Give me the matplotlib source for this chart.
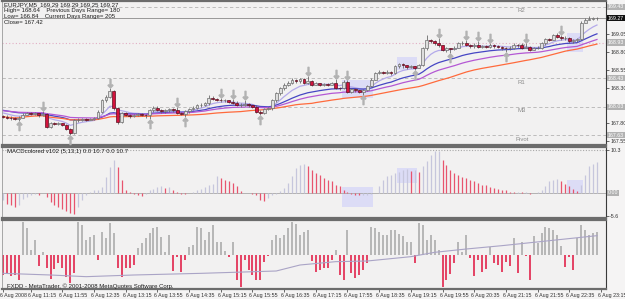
import numpy as np
import pandas as pd
import matplotlib.pyplot as plt
from matplotlib.patches import Rectangle
from matplotlib.transforms import ScaledTranslation

# EURJPY M5, 6 Aug 2008
first_open = 167.90
closes = [167.89, 167.88, 167.87, 167.86, 167.88, 167.92, 167.94, 167.93, 167.94, 167.91,
          167.93, 167.75, 167.80, 167.79, 167.80, 167.78, 167.72, 167.66, 167.84, 167.85,
          167.86, 167.85, 167.86, 167.87, 167.96, 168.12, 168.17, 168.25, 168.01, 167.82,
          167.94, 167.92, 167.90, 167.91, 167.93, 167.92, 167.91, 167.98, 168.02, 167.99,
          167.97, 167.98, 168.00, 167.98, 167.95, 167.93, 167.97, 168.00, 168.02, 168.05,
          168.06, 168.08, 168.16, 168.14, 168.13, 168.12, 168.12, 168.10, 168.09, 168.05,
          168.06, 168.07, 168.05, 168.03, 167.96, 167.95, 168.00, 168.01, 168.12, 168.22,
          168.29, 168.34, 168.37, 168.41, 168.39, 168.42, 168.37, 168.39, 168.34, 168.36,
          168.34, 168.35, 168.34, 168.36, 168.30, 168.29, 168.38, 168.24, 168.28, 168.26,
          168.24, 168.26, 168.32, 168.41, 168.50, 168.52, 168.51, 168.52, 168.50, 168.60,
          168.63, 168.61, 168.59, 168.60, 168.58, 168.61, 168.85, 168.97, 168.95, 168.92,
          168.89, 168.83, 168.85, 168.84, 168.86, 168.92, 168.93, 168.90, 168.88, 168.90,
          168.87, 168.88, 168.87, 168.90, 168.88, 168.87, 168.86, 168.85, 168.86, 168.90,
          168.89, 168.86, 168.87, 168.83, 168.85, 168.86, 168.92, 168.98, 168.97, 169.03,
          169.01, 168.99, 169.00, 168.95, 168.96, 168.98, 169.21, 169.25, 169.26, 169.27,
          169.27]
highs = [167.92, 167.91, 167.90, 167.89, 167.90, 167.94, 167.96, 167.96, 167.96, 167.95,
         167.97, 167.94, 167.82, 167.82, 167.82, 167.81, 167.79, 167.73, 167.86, 167.87,
         167.88, 167.87, 167.88, 167.89, 167.98, 168.14, 168.20, 168.29, 168.27, 168.03,
         167.96, 167.96, 167.93, 167.93, 167.95, 167.95, 167.93, 168.00, 168.04, 168.04,
         168.00, 168.00, 168.02, 168.02, 168.03, 167.96, 167.99, 168.02, 168.04, 168.07,
         168.08, 168.10, 168.19, 168.18, 168.15, 168.16, 168.14, 168.13, 168.14, 168.11,
         168.08, 168.12, 168.08, 168.06, 168.05, 167.98, 168.02, 168.03, 168.14, 168.24,
         168.31, 168.36, 168.39, 168.43, 168.42, 168.44, 168.44, 168.46, 168.40, 168.38,
         168.37, 168.37, 168.36, 168.38, 168.42, 168.31, 168.40, 168.41, 168.30, 168.29,
         168.27, 168.28, 168.34, 168.43, 168.52, 168.54, 168.53, 168.54, 168.53, 168.62,
         168.65, 168.64, 168.62, 168.62, 168.60, 168.63, 168.87, 169.04, 168.98, 168.96,
         169.00, 168.90, 168.87, 168.86, 168.88, 168.94, 168.95, 168.97, 168.91, 168.92,
         168.95, 168.90, 168.89, 168.93, 168.91, 168.89, 168.88, 168.87, 168.88, 168.92,
         168.91, 168.92, 168.93, 168.88, 168.87, 168.88, 168.94, 169.00, 169.00, 169.05,
         169.06, 169.04, 169.02, 169.01, 168.98, 169.00, 169.23, 169.28, 169.30, 169.29,
         169.29]
lows = [167.87, 167.86, 167.85, 167.84, 167.83, 167.87, 167.91, 167.91, 167.92, 167.89,
        167.90, 167.73, 167.74, 167.77, 167.77, 167.76, 167.70, 167.63, 167.65, 167.82,
        167.83, 167.83, 167.84, 167.85, 167.86, 167.95, 168.10, 168.15, 167.99, 167.79,
        167.80, 167.90, 167.88, 167.89, 167.90, 167.90, 167.88, 167.86, 167.96, 167.97,
        167.95, 167.95, 167.96, 167.96, 167.93, 167.91, 167.89, 167.95, 167.98, 168.00,
        168.03, 168.04, 168.06, 168.12, 168.11, 168.10, 168.10, 168.08, 168.07, 168.04,
        168.03, 168.04, 168.03, 168.01, 167.94, 167.91, 167.93, 167.98, 167.99, 168.10,
        168.20, 168.27, 168.32, 168.35, 168.37, 168.37, 168.35, 168.35, 168.32, 168.33,
        168.32, 168.32, 168.32, 168.33, 168.28, 168.27, 168.28, 168.22, 168.23, 168.24,
        168.22, 168.20, 168.25, 168.31, 168.40, 168.49, 168.49, 168.49, 168.48, 168.49,
        168.58, 168.58, 168.56, 168.57, 168.54, 168.57, 168.60, 168.83, 168.92, 168.90,
        168.87, 168.81, 168.80, 168.78, 168.82, 168.85, 168.90, 168.88, 168.86, 168.86,
        168.85, 168.85, 168.85, 168.86, 168.86, 168.85, 168.83, 168.80, 168.83, 168.84,
        168.87, 168.84, 168.85, 168.81, 168.82, 168.84, 168.84, 168.90, 168.95, 168.96,
        168.99, 168.97, 168.97, 168.93, 168.93, 168.94, 168.96, 169.20, 169.24, 169.25,
        169.25]

# EMA values carried in from before the first visible bar
ema8_prev, ema21_prev, ema34_prev = 167.96, 167.99, 167.98

macd_hist = [-1.8, -2.6, -3.0, -3.4, -3.0, -1.4, -1.0, -0.6, -0.3, -0.6,
             -0.1, -1.0, -2.2, -3.0, -3.4, -3.8, -4.3, -4.8, -5.1, -3.4,
             -1.8, -0.6, 0.2, 0.6, 0.8, 1.4, 3.8, 6.2, 8.0, 6.2,
             3.0, 0.8, 0.2, -0.3, -0.6, -0.8, -0.2, 0.6, 1.0, 1.4,
             1.6, 1.3, 1.4, 0.6, 0.2, -0.2, -0.3, 0.0, 0.2, 0.6,
             1.0, 1.4, 1.8, 2.2, 4.0, 3.6, 3.2, 2.8, 2.4, 1.6,
             0.4, 0.1, 0.0, -0.2, -0.6, -1.6, -2.0, -1.2, -0.6, -0.2,
             0.4, 1.2, 2.4, 4.0, 6.0, 6.8, 6.9, 6.4, 5.6, 4.8,
             4.4, 3.6, 3.2, 2.8, 2.0, 1.6, 0.8, 0.2, -0.2, -0.4,
             -0.6, -0.6, -0.4, -0.2, 0.1, 1.6, 3.2, 4.0, 4.4, 4.8,
             5.0, 5.4, 5.8, 5.2, 5.6, 5.0, 6.4, 7.6, 9.2, 10.0,
             10.0, 8.0, 6.8, 5.6, 4.8, 4.2, 3.8, 3.6, 3.2, 2.8,
             2.4, 2.0, 1.8, 1.4, 1.2, 1.0, 0.8, 0.6, 0.3, 0.2,
             0.3, 0.2, 0.2, -0.2, 0.0, 0.2, 0.8, 1.6, 2.8, 3.2,
             3.3, 2.8, 2.2, 1.6, 1.0, 0.4, 2.0, 4.4, 6.4, 7.0,
             7.4]

flow = [-60, -58, -62, -60, -75, 98, 80, 15, 45, -32,
        8, -40, -72, -42, -25, -40, -65, -85, -55, 98,
        90, 45, 55, 60, -15, 70, 52, 95, 65, -40,
        -65, -38, -38, -30, 20, 35, 52, 65, 80, 85,
        55, 8, 60, -48, -5, -50, -15, 25, 30, 85,
        80, 45, 68, 90, 38, 38, 12, -7, 40, -75,
        -95, -15, -45, -60, -75, -75, -20, -3, 45, 60,
        52, 60, 80, 98, 92, 60, 70, 75, -18, -50,
        -45, -40, -40, -15, 15, -60, -75, 75, -55, -70,
        -60, -45, -25, 85, 82, 70, 60, 60, 75, 75,
        62, 58, 40, 40, -25, 95, 90, 45, 60, 45,
        15, -95, -75, -58, -25, 40, 8, 60, -8, -62,
        -15, -50, -42, 25, -25, -30, -50, -22, -32, 52,
        -55, 38, -2, -75, 58, 35, 65, 85, 82, 75,
        60, 28, -35, -5, -45, 52, 90, 75, 60, 65,
        68]
flow_avg_bars = [0, 12, 21, 33, 50, 69, 75, 84, 92, 103, 109, 117, 126, 134, 142, 150]
flow_avg = [-55, -60, -65, -60, -55, -48, -30, -20, -18, -5, 8, 18, 28, 38, 48, 58]

pivot_names = ['Pivot', 'M3', 'R1', 'M4', 'R2']
pivot_levels = [167.63, 168.03, 168.43, 168.93, 169.43]

fractal_up = [10, 27, 44, 55, 58, 61, 77, 84, 87, 110, 117, 120, 123, 132, 141]
fractal_down = [4, 17, 37, 46, 65, 91, 104, 113, 127]

zone_bars = [(86, 93), (100, 104), (143, 146)]
zone_price = [(168.15, 168.41), (168.55, 168.73), (168.80, 169.06)]
zone_macd = [(-3.4, 1.4), (2.4, 6.0), (0.0, 3.1)]

time_ticks = [0, 7, 15, 23, 31, 39, 47, 55, 63, 71, 79, 87, 95, 103, 111, 119, 127, 135, 143, 151]
time_labels = ['6 Aug 2008', '6 Aug 11:15', '6 Aug 11:55', '6 Aug 12:35', '6 Aug 13:15',
               '6 Aug 13:55', '6 Aug 14:35', '6 Aug 15:15', '6 Aug 15:55', '6 Aug 16:35',
               '6 Aug 17:15', '6 Aug 17:55', '6 Aug 18:35', '6 Aug 19:15', '6 Aug 19:55',
               '6 Aug 20:35', '6 Aug 21:15', '6 Aug 21:55', '6 Aug 22:35', '6 Aug 23:15']

header = ['EURJPY,M5  169.29 169.29 169.25 169.27',
          'High= 168.64    Previous Days Range= 180',
          'Low= 166.84    Current Days Range= 205',
          'Close= 167.42']


def ema(vals, period, prev):
    k = 2.0 / (period + 1)
    out = []
    for v in vals:
        prev = prev + k * (v - prev)
        out.append(prev)
    return np.array(out)


n = len(closes)
x = np.arange(n)
c = np.array(closes)
o = np.array([first_open] + closes[:-1])
hi, lo = np.array(highs), np.array(lows)

W, H = 625, 299
FS = 4.3     # text inside the panels
FS_AX = 3.8  # right-hand price scale and time scale
BG = '#f2f1f1'
plt.rcParams['font.family'] = ['Liberation Sans Narrow', 'Liberation Sans', 'DejaVu Sans']
fig = plt.figure(figsize=(W / 100, H / 100), dpi=100, facecolor='#f5f4f4')


def panel(top, bottom):
    ax = fig.add_axes([2 / W, 1 - bottom / H, 604 / W, (bottom - top) / H])
    ax.set_facecolor(BG)
    ax.set_xlim(-0.25, 152.28)
    for s in ['top', 'bottom']:
        ax.spines[s].set_color('#6c6c6c')
        ax.spines[s].set_linewidth(1.6)
    ax.spines['left'].set_color('#9a9a9a')
    ax.spines['left'].set_linewidth(0.6)
    ax.spines['right'].set_color('#3a3a3a')
    ax.spines['right'].set_linewidth(0.8)
    ax.yaxis.tick_right()
    ax.tick_params(axis='y', labelsize=FS_AX, length=2, pad=1.0, colors='#303030', width=0.5)
    ax.tick_params(axis='x', bottom=False, labelbottom=False)
    return ax


def value_box(ax, val, text, fc):
    ax.text(1.003, val, text, transform=ax.get_yaxis_transform(), fontsize=FS_AX,
            color='white', va='center', ha='left', clip_on=False,
            bbox=dict(boxstyle='square,pad=0.12', fc=fc, ec='none'))


ax1 = panel(1, 145)
ax2 = panel(147, 218)
ax3 = panel(220, 289)

# ---- main price panel ----
ax1.set_ylim(167.495, 169.512)
ax1.set_yticks([169.05, 168.80, 168.55, 168.30, 167.80, 167.55])
ax1.set_yticklabels(['%.2f' % v for v in [169.05, 168.80, 168.55, 168.30, 167.80, 167.55]])

for (b0, b1), (p0, p1) in zip(zone_bars, zone_price):
    ax1.add_patch(Rectangle((b0 - 0.5, p0), b1 - b0 + 1, p1 - p0, fc='#dcdcf6', ec='none', zorder=0.5))

for name, lvl in zip(pivot_names, pivot_levels):
    if name == 'M4':
        ax1.axhline(lvl, color='#e2aec4', lw=0.8, ls=(0, (1, 2)), zorder=1)
    else:
        ax1.axhline(lvl, color='#b4b4b4', lw=0.6, ls=(0, (4, 3)), zorder=1)
    ax1.text(131, lvl - 0.02, name, ha='center', va='top', fontsize=FS, color='#8c8c8c', zorder=1)
    value_box(ax1, lvl, '%.2f' % lvl, '#b2b2b2')

ax1.axhline(closes[-1], color='#8a8a8a', lw=0.6, zorder=1)
value_box(ax1, closes[-1], '%.2f' % closes[-1], '#111111')

ax1.plot(x, ema(closes, 8, ema8_prev), color='#b4aaea', lw=0.9, zorder=2)
ax1.plot(x, ema(closes, 21, ema21_prev), color='#4646c4', lw=0.9, zorder=2)
ax1.plot(x, ema(closes, 34, ema34_prev), color='#b458d4', lw=0.9, zorder=2)
ax1.plot(x, pd.Series(closes).rolling(50, min_periods=1).mean(), color='#ff6a3c', lw=0.9, zorder=2)

up = c >= o
body = np.maximum(np.abs(c - o), 0.004)
ax1.vlines(x, lo, hi, color='#6a6a6a', lw=0.6, zorder=3)
ax1.bar(x[up], body[up], bottom=o[up], width=0.72, color='#dedede', edgecolor='#6e6e6e', lw=0.5, zorder=4)
ax1.bar(x[~up], body[~up], bottom=c[~up], width=0.72, color='#d2123c', edgecolor='#5a1020', lw=0.5, zorder=4)

ax1.plot(fractal_up, hi[fractal_up] + 0.07, ls='none', marker='$\\downarrow$', ms=6, color='#b2b2b2', zorder=5)
ax1.plot(fractal_down, lo[fractal_down] - 0.07, ls='none', marker='$\\uparrow$', ms=6, color='#b2b2b2', zorder=5)

for i, line in enumerate(header):
    fig.text(4 / W, 1 - (5 + 5.8 * i) / H, line, fontsize=FS, color='#1e1e1e', va='center')

# ---- MACD panel ----
ax2.set_ylim(-6.0, 11.03)
ax2.set_yticks([10.3, -5.6])
ax2.set_yticklabels(['10.3', '-5.6'])
ax2.axhline(10.3, color='#a8a8a8', lw=0.8, ls=(0, (1, 1.5)))
ax2.axhline(0, color='#a8a8a8', lw=0.6)
for (b0, b1), (m0, m1) in zip(zone_bars, zone_macd):
    ax2.add_patch(Rectangle((b0 - 0.5, m0), b1 - b0 + 1, m1 - m0, fc='#dcdcf6', ec='none', zorder=0.5))
mh = np.array(macd_hist)
falling = np.r_[False, mh[1:] < mh[:-1]]
ax2.vlines(x, 0, mh, colors=np.where(falling, '#e8546e', '#c6c6dc'), lw=0.9, zorder=2)
value_box(ax2, 0, '0.00', '#b2b2b2')
ax2.text(1, 10.05, 'MACDcolored v102 (5,13,1) 0.0 10.7 0.0 10.7', fontsize=FS, color='#1e1e1e', va='center')

# ---- bottom panel ----
ax3.set_ylim(-102, 105)
ax3.set_yticks([])
fl = np.array(flow)
ax3.vlines(x, 0, fl, colors=np.where(fl < 0, '#e0123e', '#a6a6a6'), lw=1.1, zorder=2)
ax3.plot(flow_avg_bars, flow_avg, color='#aaa4c6', lw=0.8, zorder=3)
ax3.text(1, -93, 'FXDD - MetaTrader, \u00a9 2001-2008 MetaQuotes Software Corp.', fontsize=FS,
         color='#1e1e1e', va='center')
ax3.tick_params(axis='x', bottom=True, labelbottom=True, length=2, pad=1.2, labelsize=FS_AX,
                colors='#303030', width=0.5)
ax3.set_xticks(time_ticks)
ax3.set_xticklabels(time_labels, ha='left')
# MetaTrader starts each time label a little left of its tick
shift = ScaledTranslation(-3 / 100, 0, fig.dpi_scale_trans)
for lab in ax3.get_xticklabels():
    lab.set_transform(lab.get_transform() + shift)

fig.savefig('out.png', dpi=100, facecolor=fig.get_facecolor())
